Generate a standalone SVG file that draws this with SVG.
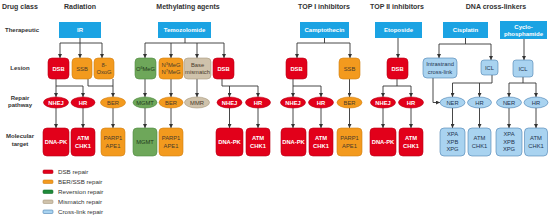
<svg xmlns="http://www.w3.org/2000/svg" width="554" height="216" viewBox="0 0 554 216">
<style>
text{font-family:"Liberation Sans",Arial,sans-serif;text-anchor:middle}
.h{font-size:7px;font-weight:bold;fill:#333}
.rl{font-size:6px;font-weight:bold;fill:#333}
.hb{fill:#1ba3e3}
.ht{font-size:6px;font-weight:bold;fill:#fff}
.red{fill:#e2001a;stroke:#b80016;stroke-width:0.6}
.org{fill:#f39a1e;stroke:#d17f12;stroke-width:0.6}
.grn{fill:#6ea75a;stroke:#4f8a3f;stroke-width:0.6}
.tan{fill:#cfc2ab;stroke:#a8987e;stroke-width:0.6}
.blu{fill:#a9d3f0;stroke:#4a7fb0;stroke-width:0.6}
.wt{font-size:5.8px;font-weight:bold;fill:#fff}
.dk{font-size:5.8px;fill:#4a3a2a}
.bt{font-size:5.8px;fill:#1f3550}
.gt{font-size:5.8px;fill:#1f3a1a}
.lg{font-size:6.2px;fill:#333;text-anchor:start}
.c{fill:none;stroke:#333;stroke-width:0.9}
.a{marker-end:url(#ah)}
</style>
<defs>
<marker id="ah" markerWidth="4" markerHeight="4" refX="4" refY="2" orient="auto" markerUnits="userSpaceOnUse"><path d="M0,0 L4,2 L0,4 z" fill="#333"/></marker>
</defs>

<g id="labels">
<text class="h" x="2" y="9" style="text-anchor:start">Drug class</text>
<text class="h" x="80" y="9">Radiation</text>
<text class="h" x="188" y="9">Methylating agents</text>
<text class="h" x="324" y="9">TOP I inhibitors</text>
<text class="h" x="397" y="9">TOP II inhibitors</text>
<text class="h" x="496" y="9">DNA cross-linkers</text>
<text class="rl" x="22" y="32">Therapeutic</text>
<text class="rl" x="20" y="70">Lesion</text>
<text class="rl" x="20" y="99.5">Repair</text>
<text class="rl" x="20" y="107">pathway</text>
<text class="rl" x="20" y="138">Molecular</text>
<text class="rl" x="20" y="145.5">target</text>
</g>

<g id="connectors">
<path class="c" d="M80,38 V43 M60,43 H102"/>
<path class="c a" d="M60,43 V58"/><path class="c a" d="M80,43 V58"/><path class="c a" d="M102,43 V58"/>
<path class="c" d="M56,79 V86 H83 M88,79 V86 H113"/>
<path class="c a" d="M56,86 V97"/><path class="c a" d="M83,86 V97"/><path class="c a" d="M113,79 V97"/>
<path class="c a" d="M56,108 V128"/><path class="c a" d="M83,108 V128"/><path class="c a" d="M113,108 V128"/>
<path class="c" d="M185,38 V43 M145,43 H224"/>
<path class="c a" d="M145,43 V58"/><path class="c a" d="M171,43 V58"/><path class="c a" d="M197,43 V58"/><path class="c a" d="M224,43 V58"/>
<path class="c a" d="M145,79 V97"/><path class="c a" d="M171,79 V97"/><path class="c a" d="M197,79 V97"/>
<path class="c" d="M222,79 V86 H258"/>
<path class="c a" d="M229.5,86 V97"/><path class="c a" d="M258,86 V97"/>
<path class="c a" d="M145,108 V128"/><path class="c a" d="M171,108 V128"/><path class="c a" d="M229.5,108 V128"/><path class="c a" d="M258,108 V128"/>
<path class="c" d="M324.5,38 V43 M297,43 H350"/>
<path class="c a" d="M297,43 V58"/><path class="c a" d="M350,43 V58"/>
<path class="c" d="M293,79 V86 H321"/>
<path class="c a" d="M293,86 V97"/><path class="c a" d="M321,86 V97"/><path class="c a" d="M349.5,79 V97"/>
<path class="c a" d="M293,108 V128"/><path class="c a" d="M321,108 V128"/><path class="c a" d="M349.5,108 V128"/>
<path class="c a" d="M398,38 V58"/>
<path class="c" d="M397,79 V86 M383,86 H411"/>
<path class="c a" d="M383,86 V97"/><path class="c a" d="M411,86 V97"/>
<path class="c a" d="M383,108 V128"/><path class="c a" d="M411,108 V128"/>
<path class="c" d="M465.5,38 V44 M439,44 H491"/>
<path class="c a" d="M439,44 V58"/><path class="c a" d="M491,44 V60"/>
<path class="c a" d="M524,39 V60"/>
<path class="c a" d="M433,78 V102.5 H440"/>
<path class="c" d="M492,75 V83 M452.5,83 H492"/>
<path class="c a" d="M452.5,83 V97"/><path class="c a" d="M479.5,83 V97"/>
<path class="c" d="M523,77 V83 M509,83 H536"/>
<path class="c a" d="M509,83 V97"/><path class="c a" d="M536,83 V97"/>
<path class="c a" d="M452.5,108 V128"/><path class="c a" d="M479.5,108 V128"/><path class="c a" d="M509,108 V128"/><path class="c a" d="M536,108 V128"/>
</g>

<g id="ir"><rect class="hb" x="59" y="22" width="42" height="16"/><text class="ht" x="80" y="32.2">IR</text></g>
<g id="rad-dsb"><rect class="red" x="48" y="58" width="21" height="21" rx="4"/><text class="wt" x="58.5" y="70.5">DSB</text></g>
<g id="rad-ssb"><rect class="org" x="72" y="58" width="20" height="21" rx="4"/><text class="dk" x="82" y="70.5">SSB</text></g>
<g id="rad-oxog"><rect class="org" x="94" y="58" width="20" height="21" rx="4"/><text class="dk" x="104" y="66.5">8-</text><text class="dk" x="104" y="74">OxoG</text></g>
<g id="rad-nhej"><ellipse class="red" cx="56" cy="102.5" rx="12.5" ry="5.5"/><text class="wt" x="56" y="104.6">NHEJ</text></g>
<g id="rad-hr"><ellipse class="red" cx="83" cy="102.5" rx="12" ry="5.5"/><text class="wt" x="83" y="104.6">HR</text></g>
<g id="rad-ber"><ellipse class="org" cx="113" cy="102.5" rx="12.5" ry="5.5"/><text class="dk" x="113" y="104.6">BER</text></g>
<g id="rad-dnapk"><rect class="red" x="43" y="128" width="26" height="28" rx="4"/><text class="wt" x="56" y="144">DNA-PK</text></g>
<g id="rad-atm"><rect class="red" x="71" y="128" width="24" height="28" rx="4"/><text class="wt" x="83" y="140">ATM</text><text class="wt" x="83" y="147.5">CHK1</text></g>
<g id="rad-parp"><rect class="org" x="101" y="128" width="24" height="28" rx="4"/><text class="dk" x="113" y="140">PARP1</text><text class="dk" x="113" y="147.5">APE1</text></g>

<g id="temozolomide"><rect class="hb" x="158" y="22" width="53" height="16"/><text class="ht" x="184.5" y="32.2">Temozolomide</text></g>
<g id="o6meg"><rect class="grn" x="135" y="58" width="21" height="21" rx="4"/><text class="gt" x="145.5" y="70.5">O<tspan font-size="3.8" dy="-2">6</tspan><tspan dy="2">MeG</tspan></text></g>
<g id="n3meg"><rect class="org" x="159" y="58" width="24" height="21" rx="4"/><text class="dk" x="171" y="66.5">N<tspan font-size="3.8" dy="-2">3</tspan><tspan dy="2">MeG</tspan></text><text class="dk" x="171" y="74">N<tspan font-size="3.8" dy="-2">7</tspan><tspan dy="2">MeG</tspan></text></g>
<g id="mismatch"><rect class="tan" x="184" y="58" width="27" height="21" rx="4"/><text class="dk" x="197.5" y="66.5">Base</text><text class="dk" x="197.5" y="74">mismatch</text></g>
<g id="met-dsb"><rect class="red" x="213" y="58" width="21" height="21" rx="4"/><text class="wt" x="223.5" y="70.5">DSB</text></g>
<g id="met-mgmt-r"><ellipse class="grn" cx="145" cy="102.5" rx="12" ry="5.5"/><text class="gt" x="145" y="104.6">MGMT</text></g>
<g id="met-ber"><ellipse class="org" cx="171" cy="102.5" rx="12" ry="5.5"/><text class="dk" x="171" y="104.6">BER</text></g>
<g id="met-mmr"><ellipse class="tan" cx="197" cy="102.5" rx="12.5" ry="5.5"/><text class="dk" x="197" y="104.6">MMR</text></g>
<g id="met-nhej"><ellipse class="red" cx="229.5" cy="102.5" rx="12.5" ry="5.5"/><text class="wt" x="229.5" y="104.6">NHEJ</text></g>
<g id="met-hr"><ellipse class="red" cx="258" cy="102.5" rx="12.5" ry="5.5"/><text class="wt" x="258" y="104.6">HR</text></g>
<g id="met-mgmt"><rect class="grn" x="133" y="128" width="24" height="28" rx="4"/><text class="gt" x="145" y="144">MGMT</text></g>
<g id="met-parp"><rect class="org" x="159" y="128" width="24" height="28" rx="4"/><text class="dk" x="171" y="140">PARP1</text><text class="dk" x="171" y="147.5">APE1</text></g>
<g id="met-dnapk"><rect class="red" x="216" y="128" width="27" height="28" rx="4"/><text class="wt" x="229.5" y="144">DNA-PK</text></g>
<g id="met-atm"><rect class="red" x="246" y="128" width="24" height="28" rx="4"/><text class="wt" x="258" y="140">ATM</text><text class="wt" x="258" y="147.5">CHK1</text></g>

<g id="camptothecin"><rect class="hb" x="300" y="22" width="49" height="16"/><text class="ht" x="324.5" y="32.2">Camptothecin</text></g>
<g id="t1-dsb"><rect class="red" x="286" y="58" width="21" height="21" rx="4"/><text class="wt" x="296.5" y="70.5">DSB</text></g>
<g id="t1-ssb"><rect class="org" x="339" y="58" width="21" height="21" rx="4"/><text class="dk" x="349.5" y="70.5">SSB</text></g>
<g id="t1-nhej"><ellipse class="red" cx="293" cy="102.5" rx="12.5" ry="5.5"/><text class="wt" x="293" y="104.6">NHEJ</text></g>
<g id="t1-hr"><ellipse class="red" cx="321" cy="102.5" rx="12.5" ry="5.5"/><text class="wt" x="321" y="104.6">HR</text></g>
<g id="t1-ber"><ellipse class="org" cx="349.5" cy="102.5" rx="12.5" ry="5.5"/><text class="dk" x="349.5" y="104.6">BER</text></g>
<g id="t1-dnapk"><rect class="red" x="281" y="128" width="25" height="28" rx="4"/><text class="wt" x="293.5" y="144">DNA-PK</text></g>
<g id="t1-atm"><rect class="red" x="309" y="128" width="24" height="28" rx="4"/><text class="wt" x="321" y="140">ATM</text><text class="wt" x="321" y="147.5">CHK1</text></g>
<g id="t1-parp"><rect class="org" x="337" y="128" width="25" height="28" rx="4"/><text class="dk" x="349.5" y="140">PARP1</text><text class="dk" x="349.5" y="147.5">APE1</text></g>

<g id="etoposide"><rect class="hb" x="375" y="22" width="47" height="16"/><text class="ht" x="398.5" y="32.2">Etoposide</text></g>
<g id="t2-dsb"><rect class="red" x="387" y="58" width="21" height="21" rx="4"/><text class="wt" x="397.5" y="70.5">DSB</text></g>
<g id="t2-nhej"><ellipse class="red" cx="383" cy="102.5" rx="12.5" ry="5.5"/><text class="wt" x="383" y="104.6">NHEJ</text></g>
<g id="t2-hr"><ellipse class="red" cx="411" cy="102.5" rx="12.5" ry="5.5"/><text class="wt" x="411" y="104.6">HR</text></g>
<g id="t2-dnapk"><rect class="red" x="370" y="128" width="26" height="28" rx="4"/><text class="wt" x="383" y="144">DNA-PK</text></g>
<g id="t2-atm"><rect class="red" x="399" y="128" width="24" height="28" rx="4"/><text class="wt" x="411" y="140">ATM</text><text class="wt" x="411" y="147.5">CHK1</text></g>

<g id="cisplatin"><rect class="hb" x="443" y="22" width="45" height="16"/><text class="ht" x="465.5" y="32.2">Cisplatin</text></g>
<g id="cyclophosphamide"><rect class="hb" x="500" y="21" width="47" height="18"/><text class="ht" x="523.5" y="28.5">Cyclo-</text><text class="ht" x="523.5" y="35.5">phosphamide</text></g>
<g id="intrastrand"><rect class="blu" x="423" y="58" width="34" height="20" rx="4"/><text class="bt" x="440" y="66">Intrastrand</text><text class="bt" x="440" y="73.5">cross-link</text></g>
<g id="cis-icl"><rect class="blu" x="481" y="60" width="17" height="15" rx="3"/><text class="bt" x="489.5" y="69.5">ICL</text></g>
<g id="cyc-icl"><rect class="blu" x="513" y="60" width="20" height="17" rx="3"/><text class="bt" x="523" y="70.5">ICL</text></g>
<g id="cis-ner"><ellipse class="blu" cx="452.5" cy="102.5" rx="12.5" ry="5.5"/><text class="bt" x="452.5" y="104.6">NER</text></g>
<g id="cis-hr"><ellipse class="blu" cx="479.5" cy="102.5" rx="12" ry="5.5"/><text class="bt" x="479.5" y="104.6">HR</text></g>
<g id="cyc-ner"><ellipse class="blu" cx="509" cy="102.5" rx="12.5" ry="5.5"/><text class="bt" x="509" y="104.6">NER</text></g>
<g id="cyc-hr"><ellipse class="blu" cx="536" cy="102.5" rx="12" ry="5.5"/><text class="bt" x="536" y="104.6">HR</text></g>
<g id="cis-xpa"><rect class="blu" x="440" y="128" width="25" height="28" rx="4"/><text class="bt" x="452.5" y="136">XPA</text><text class="bt" x="452.5" y="143.5">XPB</text><text class="bt" x="452.5" y="151">XPG</text></g>
<g id="cis-atm"><rect class="blu" x="468" y="128" width="23" height="28" rx="4"/><text class="bt" x="479.5" y="140">ATM</text><text class="bt" x="479.5" y="147.5">CHK1</text></g>
<g id="cyc-xpa"><rect class="blu" x="496" y="128" width="26" height="28" rx="4"/><text class="bt" x="509" y="136">XPA</text><text class="bt" x="509" y="143.5">XPB</text><text class="bt" x="509" y="151">XPG</text></g>
<g id="cyc-atm"><rect class="blu" x="524.5" y="128" width="23" height="28" rx="4"/><text class="bt" x="536" y="140">ATM</text><text class="bt" x="536" y="147.5">CHK1</text></g>

<g id="legend">
<rect class="red" x="43" y="170" width="10" height="3.5" rx="1"/><text class="lg" x="58" y="174">DSB repair</text>
<rect class="org" x="43" y="180" width="10" height="3.5" rx="1"/><text class="lg" x="58" y="184">BER/SSB repair</text>
<rect x="43" y="190" width="10" height="3.5" rx="1" fill="#1f8a3a" stroke="#146b2a" stroke-width="0.6"/><text class="lg" x="58" y="194">Reversion repair</text>
<rect class="tan" x="43" y="200" width="10" height="3.5" rx="1"/><text class="lg" x="58" y="204">Mismatch repair</text>
<rect class="blu" x="43" y="210" width="10" height="3.5" rx="1"/><text class="lg" x="58" y="214">Cross-link repair</text>
</g>
</svg>
